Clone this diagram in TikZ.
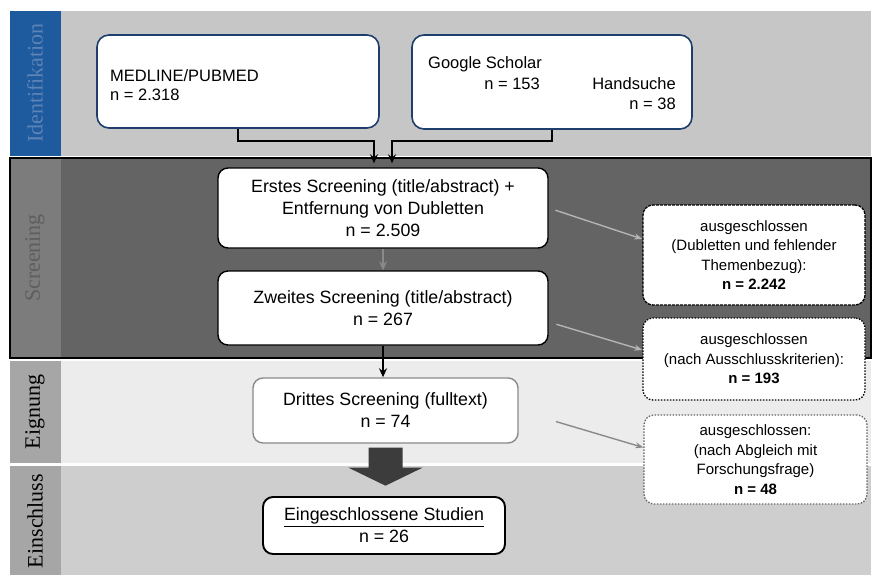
\documentclass[tikz,border=0pt]{standalone}
\usepackage{fontspec}
\setmainfont{Liberation Sans}
\newfontfamily\phasefont{Liberation Serif}
\usetikzlibrary{arrows.meta}

\definecolor{idgray}{HTML}{C6C6C6}
\definecolor{idblue}{HTML}{1D5A9E}
\definecolor{idtext}{HTML}{5E84B6}
\definecolor{srcblue}{HTML}{1E3F6E}
\definecolor{scrgray}{HTML}{646464}
\definecolor{scrlight}{HTML}{7C7C7C}
\definecolor{scrtext}{HTML}{5E5E5E}
\definecolor{eiggray}{HTML}{ECECEC}
\definecolor{eingray}{HTML}{CECECE}
\definecolor{labgray}{HTML}{A6A6A6}
\definecolor{lightarrow}{HTML}{B4B4B4}
\definecolor{darkarrow}{HTML}{8A8A8A}
\definecolor{blockgray}{HTML}{3C3C3C}

\begin{document}
\begin{tikzpicture}[x=1pt,y=-1pt,
  phase/.style={rotate=90, font=\phasefont\fontsize{22}{22}\selectfont},
  srcbox/.style={draw=srcblue, line width=1.6pt, fill=white, rounded corners=12pt, inner sep=0pt},
  srctext/.style={inner sep=0pt, font=\fontsize{16.5}{19}\selectfont},
  stepbox/.style={draw=black, line width=1.4pt, fill=white, rounded corners=10pt, inner sep=0pt,
    align=center, font=\fontsize{17.8}{22}\selectfont},
  exbox/.style={draw=black, line width=1.3pt, fill=white, rounded corners=10pt, inner sep=0pt,
    align=center, font=\fontsize{15}{19.5}\selectfont},
  feed/.style={line width=2.2pt, -{Stealth[length=9pt,width=8pt]}},
  side/.style={line width=1.4pt, draw=lightarrow, -{Stealth[length=8pt,width=6pt]}},
]
\useasboundingbox (0,0) rectangle (874,575);

% Phase bands
\fill[idgray] (10,11) rectangle (871,156);
\fill[idblue] (10,11) rectangle (61,156);
\fill[scrgray] (10,158) rectangle (871,358);
\fill[scrlight] (10,158) rectangle (61,358);
\draw[line width=1.5pt] (10,158) rectangle (871,358);
\fill[eiggray] (10,361) rectangle (871,463);
\fill[labgray] (10,361) rectangle (61,463);
\fill[eingray] (10,466) rectangle (871,575);
\fill[labgray] (10,466) rectangle (61,575);

% Phase labels
\node[phase, text=idtext] (lid) at (35,83) {Identifikation};
\node[phase, text=scrtext] (lscr) at (35,258) {Screening};
\node[phase] (leig) at (35,412) {Eignung};
\node[phase] (lein) at (35,521) {Einschluss};

% Sources
\node[srcbox, minimum width=282pt, minimum height=93pt] (medline) at (238,81.5) {};
\node[srctext, anchor=base west] (ml) at (110,82) {MEDLINE/PUBMED};
\node[srctext, anchor=base west] (mln) at (110,100) {n = 2.318};
\node[srcbox, minimum width=280pt, minimum height=94pt] (google) at (552,82) {};
\node[srctext, anchor=base west] (gs) at (428,69) {Google Scholar};
\node[srctext, anchor=base east] (gsn) at (540,90) {n = 153};
\node[srctext, anchor=base east] (hs) at (676,90) {Handsuche};
\node[srctext, anchor=base east] (hsn) at (676,110) {n = 38};

% Screening steps
\node[stepbox, minimum width=330pt, minimum height=80pt] (erst) at (383,208)
  {Erstes Screening (title/abstract) +\\ Entfernung von Dubletten\\ n = 2.509};
\node[stepbox, minimum width=330pt, minimum height=74pt] (zweit) at (383,308)
  {Zweites Screening (title/abstract)\\ n = 267};
\node[stepbox, draw=darkarrow, minimum width=265pt, minimum height=65pt] (dritt) at (385.5,410.5)
  {Drittes Screening (fulltext)\\ n = 74};
\node[stepbox, line width=1.9pt, minimum width=242pt, minimum height=57pt] (einges) at (384,525.5)
  {\underline{Eingeschlossene Studien}\\ n = 26};

% Excluded records
\node[exbox, dash pattern=on 3pt off 1pt, minimum width=222pt, minimum height=100pt] (ex1) at (754,255)
  {ausgeschlossen\\ (Dubletten und fehlender\\ Themenbezug):\\ \textbf{n = 2.242}};
\node[exbox, dash pattern=on 1.5pt off 1.5pt, minimum width=222pt, minimum height=82pt] (ex2) at (754,359)
  {ausgeschlossen\\ (nach Ausschlusskriterien):\\ \textbf{n = 193}};
\node[exbox, draw=scrgray, dash pattern=on 1.5pt off 1.5pt, minimum width=223pt, minimum height=89pt] (ex3) at (755.5,459.5)
  {ausgeschlossen:\\ (nach Abgleich mit\\ Forschungsfrage)\\ \textbf{n = 48}};

% Flow
\draw[feed, shorten >=4pt] (medline.south) -- ++(0,12) -| ([xshift=-9pt]erst.north);
\draw[feed, shorten >=4pt] (google.south) -- ++(0,11) -| ([xshift=9pt]erst.north);
\draw[feed, line width=1.6pt, draw=darkarrow] (erst) -- (zweit);
\draw[feed, line width=1.6pt] (zweit.south) -- (zweit.south |- dritt.north);
\fill[blockgray] ([xshift=-17pt,yshift=-4pt]dritt.south) -- ++(34,0) -- ++(0,20) -- ++(20,0)
  -- ++(-37,18) -- ++(-37,-18) -- ++(20,0) -- cycle;

% Exclusions
\draw[side, shorten <=7pt] (erst.east) -- ([yshift=16pt]ex1.west);
\draw[side, shorten <=8pt] ([yshift=-14pt]zweit.east) -- ([yshift=9pt]ex2.west);
\draw[side, draw=darkarrow, shorten <=39pt] (dritt.east) -- ([yshift=12pt]ex3.west);

\end{tikzpicture}
\end{document}
